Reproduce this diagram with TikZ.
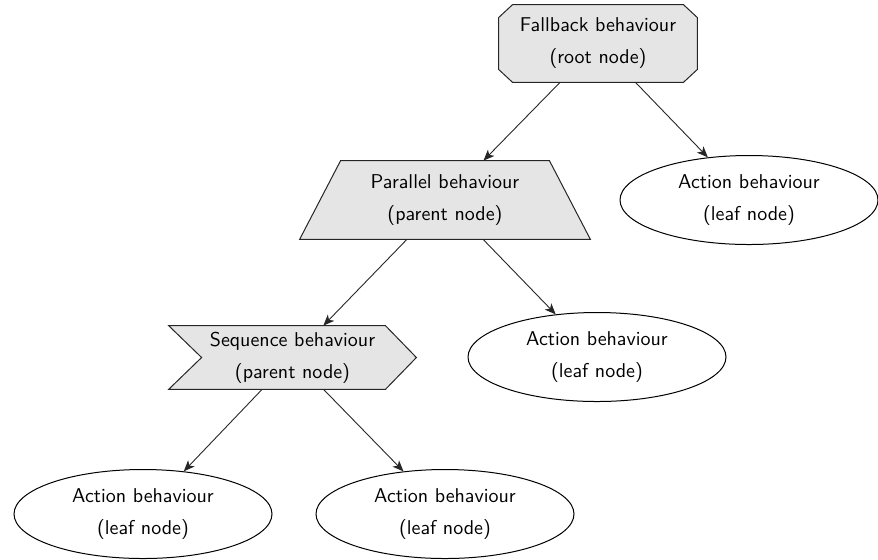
\documentclass[tikz,border=0pt]{standalone}
\usetikzlibrary{shapes.geometric,arrows.meta,backgrounds}
\tikzset{
  lbl/.style={font=\sffamily\fontsize{10}{16}\selectfont, align=center, inner sep=0pt},
  leaf/.style={lbl, ellipse, draw, line width=0.5pt, minimum width=129pt, minimum height=44.5pt},
  boxnode/.style={lbl, rectangle, draw=none},
  shapefill/.style={fill=gray!20, draw=black!85, line width=0.5pt, line join=miter},
  conn/.style={-{Stealth[length=5.5pt,width=4.5pt,inset=1.5pt]}, line width=0.45pt, black!85}
}
\begin{document}
\begin{tikzpicture}[x=0.5pt,y=-0.5pt]
\useasboundingbox (0,0) rectangle (878,559);

% root: fallback (chamfered box)
\node[boxnode, minimum width=99pt, minimum height=38.5pt] (root) at (598,43.5)
  {Fallback behaviour\\(root node)};
% parent: parallel (trapezium)
\node[boxnode, minimum width=145pt, minimum height=39pt] (par) at (445,200)
  {Parallel behaviour\\(parent node)};
% parent: sequence (signal)
\node[boxnode, minimum width=123.5pt, minimum height=31.5pt] (seq) at (292.5,357.5)
  {Sequence behaviour\\(parent node)};
% leaves
\node[leaf] (act1) at (749,200) {Action behaviour\\(leaf node)};
\node[leaf] (act2) at (597,357) {Action behaviour\\(leaf node)};
\node[leaf] (act3) at (143,514) {Action behaviour\\(leaf node)};
\node[leaf] (act4) at (445,514) {Action behaviour\\(leaf node)};

\begin{scope}[on background layer]
  \filldraw[shapefill]
    ([xshift=7pt]root.north west) -- ([xshift=-7pt]root.north east)
    -- ([yshift=-6.5pt]root.north east) -- ([yshift=6.5pt]root.south east)
    -- ([xshift=-7pt]root.south east) -- ([xshift=7pt]root.south west)
    -- ([yshift=6.5pt]root.south west) -- ([yshift=-6.5pt]root.north west) -- cycle;
  \filldraw[shapefill]
    ([xshift=20.5pt]par.north west) -- ([xshift=-20.5pt]par.north east)
    -- (par.south east) -- (par.south west) -- cycle;
  \filldraw[shapefill]
    (seq.north west) -- ([xshift=-15.5pt]seq.north east) -- (seq.east)
    -- ([xshift=-15.5pt]seq.south east) -- (seq.south west)
    -- ([xshift=16.5pt]seq.west) -- cycle;
\end{scope}

\draw[conn] (root) -- (par);
\draw[conn] (root) -- (act1);
\draw[conn] (par) -- (seq);
\draw[conn] (par) -- (act2);
\draw[conn] (seq) -- (act3);
\draw[conn] (seq) -- (act4);
\end{tikzpicture}
\end{document}
